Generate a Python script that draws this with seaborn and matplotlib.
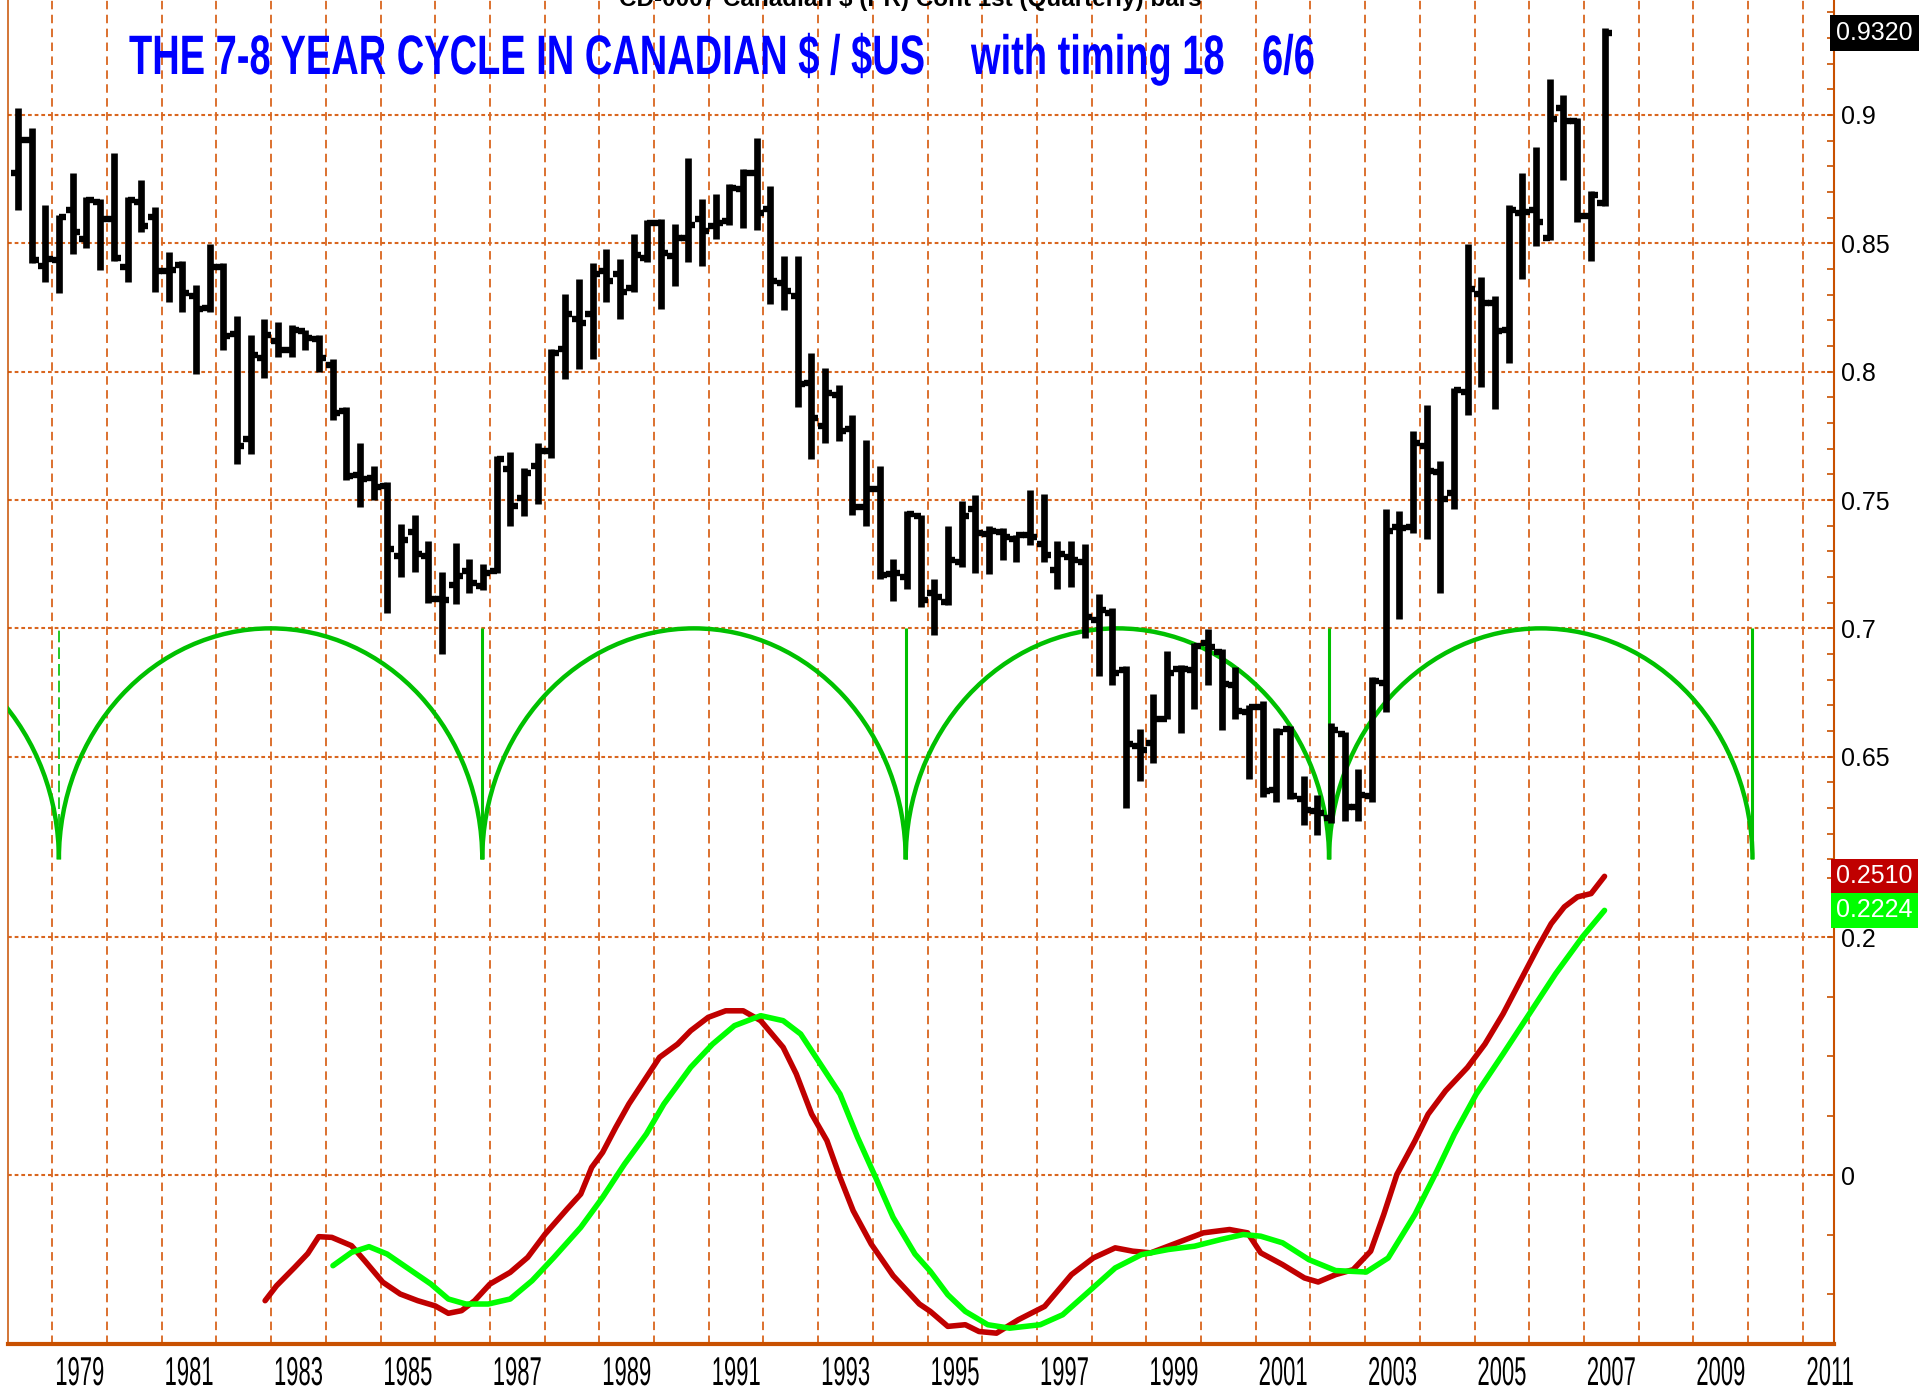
import numpy as np
import pandas as pd
import matplotlib
matplotlib.use("Agg")
import matplotlib.pyplot as plt
import seaborn as sns
from matplotlib import transforms, patheffects
from matplotlib.patches import Arc

# quarterly bars, Q2 1978 .. Q2 2007
quarters = pd.period_range("1978Q2", "2007Q2", freq="Q")
opens = [0.8774, 0.8904, 0.8411, 0.8434, 0.8631, 0.8516, 0.8660, 0.8595, 0.8408, 0.8660,
         0.8602, 0.8394, 0.8415, 0.8293, 0.8247, 0.8408, 0.8147, 0.7736, 0.8052, 0.8121,
         0.8085, 0.8157, 0.8128, 0.8027, 0.7848, 0.7596, 0.7586, 0.7553, 0.7280, 0.7374,
         0.7282, 0.7113, 0.7170, 0.7223, 0.7165, 0.7223, 0.7622, 0.7509, 0.7632, 0.7691,
         0.8087, 0.8204, 0.8223, 0.8392, 0.8379, 0.8327, 0.8444, 0.8581, 0.8451, 0.8522,
         0.8594, 0.8568, 0.8587, 0.8710, 0.8775, 0.8632, 0.8347, 0.8295, 0.7957, 0.7788,
         0.7911, 0.7775, 0.7474, 0.7543, 0.7213, 0.7200, 0.7439, 0.7136, 0.7103, 0.7258,
         0.7465, 0.7367, 0.7375, 0.7349, 0.7365, 0.7329, 0.7226, 0.7278, 0.7258, 0.7032,
         0.7058, 0.6839, 0.6541, 0.6554, 0.6648, 0.6841, 0.6836, 0.6942, 0.6906, 0.6780,
         0.6675, 0.6692, 0.6369, 0.6607, 0.6336, 0.6287, 0.6260, 0.6587, 0.6304, 0.6347,
         0.6788, 0.7395, 0.7395, 0.7712, 0.7609, 0.7526, 0.7919, 0.8301, 0.8269, 0.8164,
         0.8618, 0.8629, 0.8520, 0.9028, 0.8978, 0.8607, 0.8657]
highs = [0.9029, 0.8950, 0.8649, 0.8612, 0.8774, 0.8681, 0.8674, 0.8853, 0.8681, 0.8746,
         0.8641, 0.8466, 0.8430, 0.8336, 0.8497, 0.8422, 0.8218, 0.8142, 0.8204, 0.8195,
         0.8181, 0.8164, 0.8142, 0.8049, 0.7862, 0.7721, 0.7632, 0.7572, 0.7405, 0.7440,
         0.7340, 0.7218, 0.7334, 0.7271, 0.7249, 0.7671, 0.7687, 0.7626, 0.7721, 0.8087,
         0.8301, 0.8362, 0.8425, 0.8479, 0.8440, 0.8535, 0.8591, 0.8596, 0.8574, 0.8834,
         0.8674, 0.8691, 0.8730, 0.8791, 0.8910, 0.8723, 0.8451, 0.8451, 0.8071, 0.8016,
         0.7947, 0.7831, 0.7733, 0.7633, 0.7271, 0.7459, 0.7443, 0.7194, 0.7397, 0.7495,
         0.7521, 0.7397, 0.7391, 0.7365, 0.7539, 0.7523, 0.7342, 0.7342, 0.7329, 0.7133,
         0.7078, 0.6852, 0.6609, 0.6745, 0.6913, 0.6858, 0.6944, 0.6996, 0.6919, 0.6850,
         0.6702, 0.6718, 0.6613, 0.6620, 0.6424, 0.6352, 0.6631, 0.6598, 0.6452, 0.6810,
         0.7465, 0.7456, 0.7767, 0.7871, 0.7653, 0.7937, 0.8498, 0.8367, 0.8295, 0.8651,
         0.8775, 0.8876, 0.9142, 0.9076, 0.8989, 0.8705, 0.9338]
lows = [0.8631, 0.8422, 0.8351, 0.8305, 0.8458, 0.8483, 0.8397, 0.8430, 0.8351, 0.8545,
        0.8310, 0.8272, 0.8233, 0.7991, 0.8233, 0.8085, 0.7639, 0.7678, 0.7974, 0.8056,
        0.8056, 0.8085, 0.7999, 0.7812, 0.7578, 0.7474, 0.7500, 0.7060, 0.7201, 0.7220,
        0.7097, 0.6900, 0.7093, 0.7136, 0.7149, 0.7214, 0.7399, 0.7438, 0.7483, 0.7665,
        0.7973, 0.8012, 0.8051, 0.8271, 0.8206, 0.8310, 0.8427, 0.8245, 0.8334, 0.8427,
        0.8412, 0.8516, 0.8570, 0.8561, 0.8551, 0.8262, 0.8240, 0.7864, 0.7658, 0.7723,
        0.7730, 0.7443, 0.7397, 0.7194, 0.7107, 0.7155, 0.7084, 0.6974, 0.7091, 0.7239,
        0.7216, 0.7211, 0.7265, 0.7258, 0.7323, 0.7258, 0.7155, 0.7162, 0.6961, 0.6813,
        0.6780, 0.6302, 0.6406, 0.6477, 0.6645, 0.6593, 0.6686, 0.6780, 0.6603, 0.6648,
        0.6413, 0.6343, 0.6325, 0.6336, 0.6234, 0.6194, 0.6242, 0.6249, 0.6249, 0.6325,
        0.6675, 0.7035, 0.7373, 0.7347, 0.7138, 0.7465, 0.7832, 0.7941, 0.7854, 0.8033,
        0.8360, 0.8491, 0.8513, 0.8745, 0.8585, 0.8432, 0.8644]
closes = [0.8904, 0.8434, 0.8440, 0.8602, 0.8545, 0.8670, 0.8595, 0.8444, 0.8667, 0.8566,
          0.8391, 0.8397, 0.8307, 0.8243, 0.8408, 0.8138, 0.7711, 0.8066, 0.8142, 0.8085,
          0.8164, 0.8132, 0.8052, 0.7840, 0.7592, 0.7582, 0.7549, 0.7309, 0.7345, 0.7288,
          0.7113, 0.7110, 0.7204, 0.7178, 0.7217, 0.7658, 0.7477, 0.7606, 0.7691, 0.8074,
          0.8223, 0.8191, 0.8379, 0.8353, 0.8310, 0.8453, 0.8581, 0.8464, 0.8522, 0.8570,
          0.8548, 0.8581, 0.8717, 0.8775, 0.8620, 0.8353, 0.8314, 0.7951, 0.7821, 0.7918,
          0.7769, 0.7474, 0.7543, 0.7207, 0.7216, 0.7446, 0.7110, 0.7123, 0.7265, 0.7439,
          0.7370, 0.7381, 0.7355, 0.7362, 0.7355, 0.7284, 0.7291, 0.7265, 0.7043, 0.7071,
          0.6826, 0.6548, 0.6528, 0.6645, 0.6828, 0.6841, 0.6930, 0.6929, 0.6784, 0.6679,
          0.6692, 0.6365, 0.6598, 0.6347, 0.6293, 0.6282, 0.6604, 0.6303, 0.6352, 0.6795,
          0.7378, 0.7391, 0.7723, 0.7614, 0.7504, 0.7930, 0.8323, 0.8269, 0.8159, 0.8629,
          0.8622, 0.8585, 0.8985, 0.8978, 0.8607, 0.8688, 0.9320]

# 7-8 year cycle: trough dates, cycle levels
cycle_lows = [1979.12, 1986.86, 1994.60, 2002.34, 2010.08]
cycle_trough = 0.61
cycle_peak = 0.70

# timing oscillator (red) and its signal (green)
red_x = [1982.89, 1983.10, 1983.43, 1983.67, 1983.87, 1984.11, 1984.47, 1984.71, 1985.04, 1985.36,
         1985.68, 1986.00, 1986.24, 1986.48, 1986.72, 1987.00, 1987.37, 1987.69, 1988.01, 1988.41,
         1988.66, 1988.86, 1989.06, 1989.30, 1989.54, 1989.78, 1990.10, 1990.43, 1990.67, 1990.99,
         1991.31, 1991.63, 1991.95, 1992.36, 1992.60, 1992.88, 1993.16, 1993.40, 1993.64, 1993.97,
         1994.37, 1994.85, 1995.05, 1995.37, 1995.69, 1995.94, 1996.26, 1996.66, 1997.14, 1997.63,
         1998.03, 1998.43, 1998.75, 1999.08, 1999.56, 2000.04, 2000.52, 2000.85, 2001.09, 2001.49,
         2001.89, 2002.14, 2002.46, 2002.78, 2003.10, 2003.34, 2003.58, 2003.91, 2004.15, 2004.47,
         2004.87, 2005.19, 2005.52, 2005.84, 2006.16, 2006.40, 2006.64, 2006.88, 2007.13, 2007.375]
red_y = [-0.1056, -0.0930, -0.0776, -0.0660, -0.0518, -0.0524, -0.0594, -0.0720, -0.0900, -0.1000,
         -0.1056, -0.1100, -0.1162, -0.1140, -0.1056, -0.0916, -0.0818, -0.0692, -0.0496, -0.0286,
         -0.0160, 0.0064, 0.0190, 0.0400, 0.0597, 0.0765, 0.0989, 0.1100, 0.1213, 0.1325,
         0.1380, 0.1380, 0.1297, 0.1073, 0.0849, 0.0513, 0.0289, -0.0020, -0.0300, -0.0580,
         -0.0846, -0.1084, -0.1146, -0.1272, -0.1258, -0.1315, -0.1329, -0.1216, -0.1104, -0.0837,
         -0.0697, -0.0612, -0.0640, -0.0654, -0.0570, -0.0486, -0.0458, -0.0486, -0.0654, -0.0753,
         -0.0865, -0.0899, -0.0837, -0.0795, -0.0640, -0.0331, 0.0006, 0.0287, 0.0511, 0.0708,
         0.0904, 0.1101, 0.1354, 0.1635, 0.1916, 0.2112, 0.2253, 0.2337, 0.2365, 0.2510]
green_x = [1984.13, 1984.47, 1984.79, 1985.12, 1985.52, 1985.92, 1986.24, 1986.56, 1986.97, 1987.37,
           1987.77, 1988.17, 1988.66, 1989.06, 1989.46, 1989.86, 1990.18, 1990.67, 1991.07, 1991.47,
           1991.95, 1992.36, 1992.68, 1993.08, 1993.40, 1993.72, 1994.05, 1994.37, 1994.77, 1995.05,
           1995.37, 1995.69, 1996.10, 1996.50, 1997.06, 1997.47, 1997.95, 1998.43, 1998.91, 1999.40,
           1999.88, 2000.36, 2000.77, 2001.09, 2001.49, 2001.97, 2002.46, 2003.02, 2003.42, 2003.91,
           2004.31, 2004.63, 2005.03, 2005.52, 2006.00, 2006.48, 2006.97, 2007.375]
green_y = [-0.0762, -0.0650, -0.0602, -0.0664, -0.0790, -0.0916, -0.1042, -0.1084, -0.1084, -0.1042,
           -0.0888, -0.0692, -0.0440, -0.0188, 0.0092, 0.0345, 0.0597, 0.0905, 0.1100, 0.1255,
           0.1339, 0.1297, 0.1185, 0.0905, 0.0680, 0.0317, -0.0020, -0.0356, -0.0664, -0.0809,
           -0.1006, -0.1146, -0.1258, -0.1287, -0.1258, -0.1174, -0.0978, -0.0781, -0.0669, -0.0626,
           -0.0598, -0.0542, -0.0500, -0.0514, -0.0570, -0.0711, -0.0803, -0.0815, -0.0697, -0.0331,
           0.0034, 0.0343, 0.0680, 0.1017, 0.1354, 0.1691, 0.2000, 0.2224]

price_ticks = [0.65, 0.7, 0.75, 0.8, 0.85, 0.9]
price_labels = ["0.65", "0.7", "0.75", "0.8", "0.85", "0.9"]
osc_ticks = [0, 0.2]
osc_labels = ["0", "0.2"]
year_labels = list(range(1979, 2012, 2))

GRID = "#D9661F"
SPINE = "#C85000"
RED = "#C00000"
LIME = "#00FF00"
CYCLE = "#00C000"


class Stretch(patheffects.AbstractPathEffect):
    """stretch glyphs vertically about a fixed pixel baseline (condensed look)"""
    def __init__(self, sy, y0):
        super().__init__()
        self.sy, self.y0 = sy, y0

    def draw_path(self, renderer, gc, tpath, affine, rgbFace=None):
        tall = transforms.Affine2D().translate(0, -self.y0).scale(1, self.sy).translate(0, self.y0)
        renderer.draw_path(gc, tpath, affine + tall, rgbFace)


sns.set_theme(style="white")
plt.rcParams["font.family"] = ["Liberation Sans", "DejaVu Sans"]

W, H = 1927, 1391
fig = plt.figure(figsize=(W / 100, H / 100), dpi=100, facecolor="white")
box = [8 / W, 47 / H, (1834 - 8) / W, 1 - 47 / H]
ax = fig.add_axes(box)
ax2 = fig.add_axes(box)
ax2.patch.set_visible(False)

xlim = (1978.19, 2011.57)
ax.set_xlim(*xlim)
ax.set_ylim(0.4212, 0.9448)

# grid
ax.set_axisbelow(True)
ax.set_xticks(np.arange(1979, 2012))
ax.set_xticklabels([])
ax.tick_params(axis="x", which="both", length=0)
ax.xaxis.grid(True, which="major", color=GRID, lw=1.3, linestyle=(0, (4.7, 3.0)))
ax.yaxis.grid(True, which="major", color=GRID, lw=1.5, linestyle=(0, (1.8, 1.4)))

# right-hand scales
for a, ticks, labels, minor in [
        (ax, price_ticks, price_labels, np.arange(61, 95) / 100),
        (ax2, osc_ticks, osc_labels, [-0.1, -0.05, 0.05, 0.1, 0.15, 0.25])]:
    a.yaxis.tick_right()
    a.set_yticks(ticks, labels=labels)
    a.set_yticks(minor, minor=True)
    a.tick_params(axis="y", which="both", direction="in", length=5, width=1.2,
                  color=SPINE, labelsize=18, pad=5, labelcolor="black",
                  right=True, left=False, labelright=True, labelleft=False)

for s in ax2.spines.values():
    s.set_visible(False)
ax.spines["top"].set_visible(False)
ax.spines["left"].set_color(SPINE)
ax.spines["left"].set_linewidth(1.1)
ax.spines["right"].set_color(SPINE)
ax.spines["right"].set_linewidth(1.5)
ax.spines["bottom"].set_color(SPINE)
ax.spines["bottom"].set_linewidth(3)

# cycle arcs
span = cycle_lows[1] - cycle_lows[0]
centers = [cycle_lows[0] - span / 2] + [(a + b) / 2 for a, b in zip(cycle_lows[:-1], cycle_lows[1:])]
widths = [span] + [b - a for a, b in zip(cycle_lows[:-1], cycle_lows[1:])]
for cx, w in zip(centers, widths):
    ax.add_patch(Arc((cx, cycle_trough), width=w, height=2 * (cycle_peak - cycle_trough),
                     theta1=0, theta2=180, color=CYCLE, lw=3.2, zorder=3))
ax.vlines(cycle_lows[0], cycle_trough, cycle_peak, color=CYCLE, lw=1.2,
          linestyles=[(0, (7, 3))], zorder=3)
ax.vlines(cycle_lows[1:], cycle_trough, cycle_peak, color=CYCLE, lw=2.2, zorder=3)

# OHLC bars
bar_x = np.asarray(quarters.year + (quarters.quarter - 1) * 0.25 + 0.125, dtype=float)
tick = 0.13
ax.vlines(bar_x, lows, highs, color="black", lw=4.8, capstyle="butt", zorder=4)
ax.hlines(opens, bar_x - tick, bar_x, color="black", lw=4.6, capstyle="butt", zorder=4)
ax.hlines(closes, bar_x, bar_x + tick, color="black", lw=4.6, capstyle="butt", zorder=4)

# oscillator lines
sns.lineplot(x=red_x, y=red_y, ax=ax2, color=RED, lw=4.0, sort=False, estimator=None, zorder=4)
sns.lineplot(x=green_x, y=green_y, ax=ax2, color=LIME, lw=4.0, sort=False, estimator=None, zorder=5)
ax2.set_xlim(*xlim)
ax2.set_ylim(-0.1420, 0.9874)
ax2.set_xticks([])
ax2.xaxis.grid(False)
ax2.yaxis.grid(True, which="major", color=GRID, lw=1.5, linestyle=(0, (1.8, 1.4)))
ax2.set_xlabel("")
ax2.set_ylabel("")

# last-value boxes on the scale
tp = transforms.blended_transform_factory(ax.transAxes, ax.transData)
to = transforms.blended_transform_factory(ax2.transAxes, ax2.transData)
ax.text(1.0012, closes[-1], f"{closes[-1]:.4f}", transform=tp, ha="left", va="center",
        color="white", fontsize=18, clip_on=False, zorder=10,
        bbox=dict(boxstyle="square,pad=0.25", fc="black", ec="none"))
ax2.text(1.0012, red_y[-1], f"{red_y[-1]:.4f}", transform=to, ha="left", va="center",
         color="white", fontsize=18, clip_on=False, zorder=10,
         bbox=dict(boxstyle="square,pad=0.22", fc=RED, ec="none"))
ax2.text(1.0012, green_y[-1], f"{green_y[-1]:.4f}", transform=to, ha="left", va="center",
         color="white", fontsize=18, clip_on=False, zorder=11,
         bbox=dict(boxstyle="square,pad=0.22", fc=LIME, ec="none"))

# year labels, centred in each odd year
tx = transforms.blended_transform_factory(ax.transData, ax.transAxes)
ylab = [ax.text(y + 0.5, -41 / 1344, str(y), transform=tx, ha="center", va="baseline",
                fontsize=29, color="black", clip_on=False) for y in year_labels]

# titles
head = fig.text(910 / W, 1 - 6 / H, r"CD-0007 Canadian \$ (PR) Cont 1st (Quarterly) bars",
                ha="center", va="baseline", fontsize=16, fontweight="bold", color="black")
titles = [fig.text(x / W, 1 - 74 / H, s, color="#0000FF", fontsize=40, fontweight="bold",
                   va="baseline")
          for x, s in [(129, r"THE 7-8 YEAR CYCLE IN CANADIAN \$ / \$US"),
                       (971, "with timing 18"), (1262, "6/6")]]

# fit widths with the font size, then stretch glyphs up to the reference height
fig.canvas.draw()
r = fig.canvas.get_renderer()
head.set_fontsize(16 * 580 / head.get_window_extent(r).width)
k = 795 / titles[0].get_window_extent(r).width
for t in titles:
    t.set_fontsize(40 * k)
    t.set_path_effects([Stretch(1 / k, H - 74)])
k = 49 / ylab[0].get_window_extent(r).width
for t in ylab:
    t.set_fontsize(29 * k)
    t.set_path_effects([Stretch(1 / k, 47 - 41)])

fig.savefig("out.png", dpi=100, facecolor="white")
